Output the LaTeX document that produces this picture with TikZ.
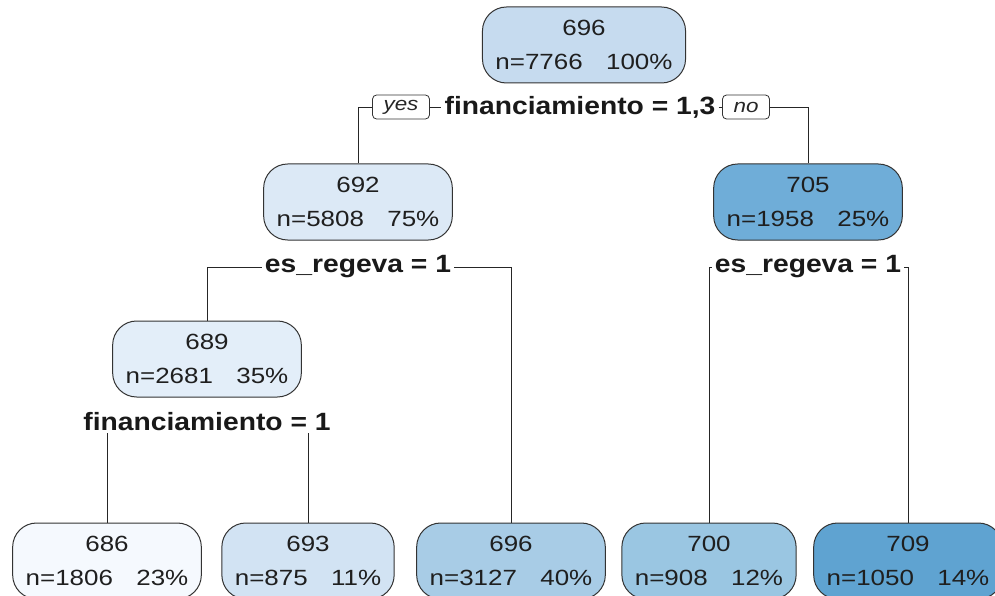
\documentclass[tikz,border=0pt]{standalone}
\usepackage{fontspec}
\setmainfont{Liberation Sans}
\usepackage{graphicx}
\usetikzlibrary{backgrounds}
\definecolor{cRoot}{HTML}{C6DBEF}
\definecolor{cA}{HTML}{DCE9F6}
\definecolor{cB}{HTML}{6FADD8}
\definecolor{cC}{HTML}{E3EEF9}
\definecolor{cL1}{HTML}{F5F9FE}
\definecolor{cL2}{HTML}{D2E3F3}
\definecolor{cL3}{HTML}{A8CCE6}
\definecolor{cL4}{HTML}{9AC6E2}
\definecolor{cL5}{HTML}{5FA3D1}
\newcommand\sxn[1]{\scalebox{1.18}[1]{#1}}
\newcommand\sxs[1]{\scalebox{1.13}[1]{#1}}
\newcommand\nlab[3]{\sxn{#1}\\\sxn{n=#2\hspace{0.9em}#3\%}}
\tikzset{
  tnode/.style={draw=black!80, line width=1pt, rounded corners=24pt, minimum height=76pt,
    inner xsep=13pt, inner ysep=0pt, align=center, text=black!88,
    font=\fontsize{22}{34}\selectfont},
  split/.style={fill=white, inner xsep=3pt, inner ysep=2pt, text=black!90,
    font=\fontsize{25}{30}\bfseries\selectfont},
  yn/.style={draw=black!80, fill=white, line width=0.8pt, rounded corners=4pt,
    minimum height=24pt, inner xsep=11pt, inner ysep=0pt, text=black!85,
    font=\fontsize{19}{22}\itshape\selectfont},
  conn/.style={line width=0.9pt, draw=black!85},
}
\begin{document}
\begin{tikzpicture}[x=1pt,y=-1pt]
\useasboundingbox (0,0) rectangle (995,596);
% tree nodes
\node[tnode, fill=cRoot] (root) at (584,45) {\nlab{696}{7766}{100}};
\node[tnode, fill=cA] (n692) at (358,202) {\nlab{692}{5808}{75}};
\node[tnode, fill=cB] (n705) at (808,202) {\nlab{705}{1958}{25}};
\node[tnode, fill=cC] (n689) at (207,359) {\nlab{689}{2681}{35}};
\node[tnode, fill=cL1] (n686) at (107,561) {\nlab{686}{1806}{23}};
\node[tnode, fill=cL2] (n693) at (308,561) {\nlab{693}{875}{11}};
\node[tnode, fill=cL3] (n696) at (511,561) {\nlab{696}{3127}{40}};
\node[tnode, fill=cL4] (n700) at (709,561) {\nlab{700}{908}{12}};
\node[tnode, fill=cL5] (n709) at (908,561) {\nlab{709}{1050}{14}};
% split labels
\node[split] (s1) at (580,107) {\sxs{financiamiento = 1,3}};
\node[yn] (yes) at (401,107) {\sxn{yes}};
\node[yn] (no) at (746,107) {\sxn{no}};
\node[split] (s2) at (358,267) {\sxs{es\_regeva = 1}};
\node[split] (s3) at (808,267) {\sxs{es\_regeva = 1}};
\node[split] (s4) at (207,422) {\sxs{financiamiento = 1}};
% connectors
\begin{pgfonlayer}{background}
\draw[conn] (n692.north) |- (yes.west);
\draw[conn] (yes.east) -- (s1.west);
\draw[conn] (s1.east) -- (no.west);
\draw[conn] (no.east) -| (n705.north);
\draw[conn] (n689.north) |- (s2.west);
\draw[conn] (s2.east) -| (n696.north);
\draw[conn] (n700.north) |- (s3.west);
\draw[conn] (s3.east) -| (n709.north);
\draw[conn] (n686.north) |- (s4.center) -| (n693.north);
\end{pgfonlayer}
\end{tikzpicture}
\end{document}
